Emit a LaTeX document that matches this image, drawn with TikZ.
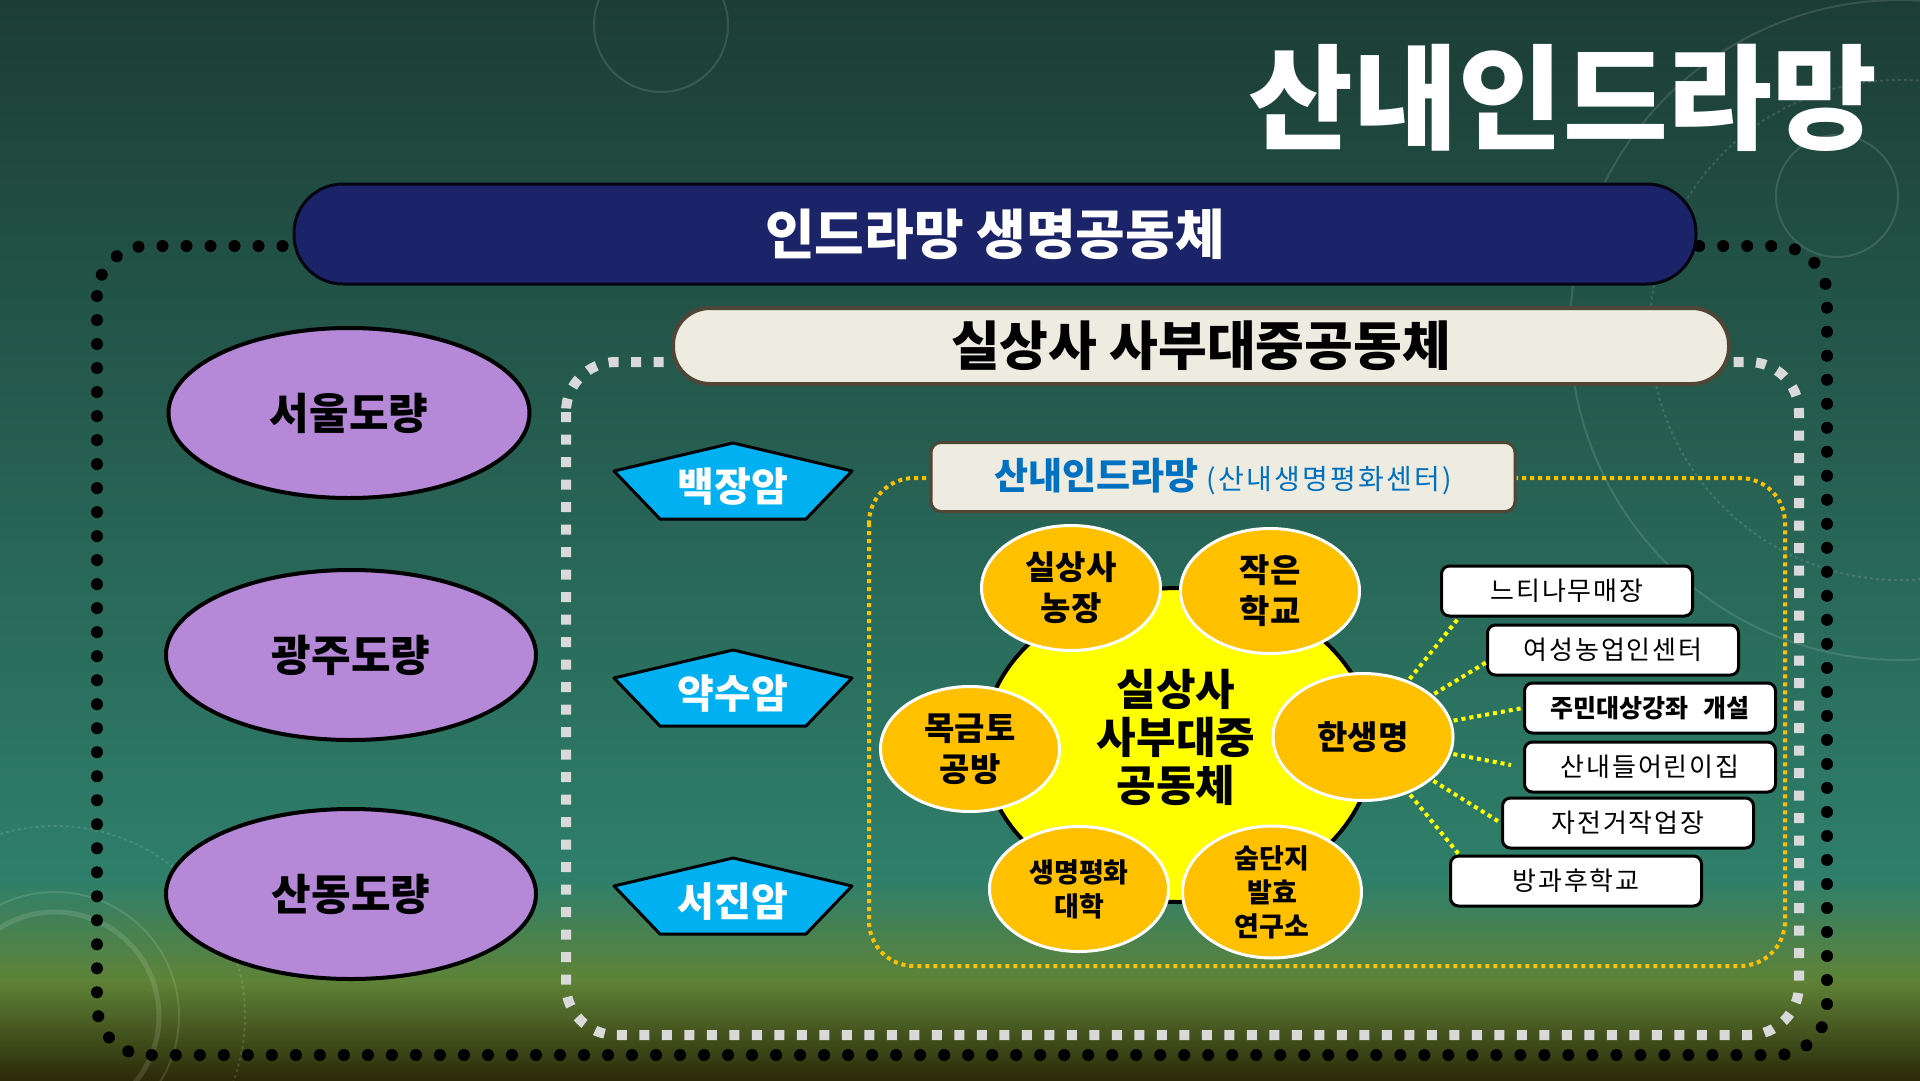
\documentclass[tikz,border=0pt]{standalone}
\usepackage{fontspec}
\setmainfont{Noto Sans CJK KR}
\usetikzlibrary{calc,shapes.geometric}
\definecolor{bgTop}{HTML}{1C3D35}
\definecolor{bgMid}{HTML}{2F7F6B}
\definecolor{bgOlive}{HTML}{5F8337}
\definecolor{bgBot}{HTML}{2B2A08}
\definecolor{navyC}{HTML}{1B2468}
\definecolor{creamC}{HTML}{EEEBE1}
\definecolor{creamB}{HTML}{4F4637}
\definecolor{purpleC}{HTML}{B589D8}
\definecolor{blueC}{HTML}{00B0F0}
\definecolor{orangeC}{HTML}{FFC000}
\definecolor{yelC}{HTML}{FFFF00}
\definecolor{greyD}{HTML}{D9D9D9}
\definecolor{labelBlue}{HTML}{0070C0}
\newcommand\fs[1]{\fontsize{#1}{#1}\selectfont}
\begin{document}
\begin{tikzpicture}[x=1pt,y=-1pt,
  deco/.style={draw=white, draw opacity=0.12, line width=2pt},
  blackdots/.style={draw=black, line width=12pt, line cap=round, dash pattern=on 0.01pt off 24pt},
  whitedash/.style={draw=greyD, line width=10pt, dash pattern=on 10pt off 12.5pt},
  golddots/.style={draw=orangeC, line width=4pt, dash pattern=on 4pt off 4pt},
  ylink/.style={draw=yelC, line width=4pt, dash pattern=on 4pt off 4pt},
  purp/.style={ellipse, draw=black, line width=4pt, fill=purpleC, minimum width=370pt, minimum height=170pt, font=\bfseries\fs{43}},
  pent/.style={draw=black, line width=3pt, fill=blueC, line join=round},
  penttext/.style={text=white, font=\bfseries\fs{40}},
  bubble/.style={ellipse, draw=white, line width=3pt, fill=orangeC, minimum width=179pt, minimum height=125pt, inner sep=0pt, align=center, font=\bfseries\fontsize{33}{41}\selectfont},
  bubblesm/.style={bubble, font=\bfseries\fontsize{27}{34}\selectfont},
  rbox/.style={rectangle, rounded corners=8pt, draw=black, line width=3pt, fill=white, minimum width=251pt, minimum height=50pt, inner sep=0pt, font=\fs{26}\addfontfeatures{LetterSpace=7}}
]
\useasboundingbox (0,0) rectangle (1920,1080);
% background
\shade[top color=bgTop, bottom color=bgMid] (0,0) rectangle (1920,881);
\shade[top color=bgMid, bottom color=bgOlive] (0,880) rectangle (1920,981);
\shade[top color=bgOlive, bottom color=bgBot] (0,980) rectangle (1920,1080);
% faint decorative dials
\draw[deco] (661,25) circle (67);
\draw[deco] (1837,196) circle (61);
\draw[deco] (1900,330) circle (330);
\draw[deco, dashed] (1900,330) circle (250);
\draw[deco, line width=5pt] (55,1016) circle (104);
\draw[deco] (55,1016) circle (124);
\draw[deco, dashed] (55,1016) circle (190);
% outer black dotted frame
\draw[blackdots, rounded corners=50pt] (97,246) rectangle (1827,1055);
% navy bar
\node[rectangle, rounded corners=49pt, draw=black!85!navyC, line width=3pt, fill=navyC, minimum width=1402pt, minimum height=100pt, text=white, font=\bfseries\fs{54}] (navy) at (995,234) {인드라망 생명공동체};
% white dashed frame
\draw[whitedash, rounded corners=50pt] (566,362) rectangle (1799,1035);
% cream bar
\node[rectangle, rounded corners=37pt, draw=creamB, line width=4pt, fill=creamC, minimum width=1056pt, minimum height=76pt, font=\bfseries\fs{53}] (cream) at (1201,346) {실상사 사부대중공동체};
% purple ellipses
\node[purp, minimum width=361pt] (seoul) at (349,413) {서울도량};
\node[purp] (gwangju) at (351,655) {광주도량};
\node[purp] (sandong) at (351,894) {산동도량};
% blue pentagons
\foreach \n/\y/\t in {baek/487/백장암, yaksu/694/약수암, seojin/902/서진암}{
  \draw[pent] (733,\y) ++(0,-44) -- ++(-119,28) -- ++(46,48) -- ++(146,0) -- ++(46,-48) -- cycle;
  \node[penttext] (\n) at (733,\y) {\t};
}
% gold dotted frame
\draw[golddots, rounded corners=45pt] (869,478) rectangle (1785,966);
% label box
\node[rectangle, rounded corners=10pt, draw=creamB, line width=3pt, fill=creamC, minimum width=584pt, minimum height=69pt, text=labelBlue] (label) at (1223,477) {{\bfseries\fs{37}산내인드라망}\hspace{8pt}{\fs{28}\addfontfeatures{LetterSpace=8}(산내생명평화센터)}};
% central yellow disc
\draw[draw=black, line width=4pt, fill=yelC] (1178,745) ellipse [x radius=195, y radius=157];
\node[align=center, font=\bfseries\fontsize{43}{48}\selectfont] (core) at (1176,737) {실상사\\사부대중\\공동체};
% right boxes
\node[rbox] (b1) at (1567,591) {느티나무매장};
\node[rbox] (b2) at (1613,650) {여성농업인센터};
\node[rbox, font=\bfseries\fs{25}] (b3) at (1650,708) {주민대상강좌\hspace{10pt} 개설};
\node[rbox] (b4) at (1650,767) {산내들어린이집};
\node[rbox] (b5) at (1628,823) {자전거작업장};
\node[rbox] (b6) at (1576,881) {방과후학교};
% bubbles
\node[bubble] (farm) at (1071,588) {실상사\\농장};
\node[bubble] (school) at (1270,591) {작은\\학교};
\node[bubble] (mokgeum) at (970,749) {목금토\\공방};
\node[bubblesm] (univ) at (1079,889) {생명평화\\대학};
\node[bubblesm, minimum height=127pt] (sum) at (1272,892) {숨단지\\발효\\연구소};
% connectors from 한생명 to the boxes
\coordinate (e1) at ($(b1.south west)+(19,0)$);
\coordinate (e2) at ($(b2.south west)+(0,-14)$);
\coordinate (e4) at ($(b4.west)+(-12,-2)$);
\coordinate (e6) at ($(b6.north west)+(10,0)$);
\node[bubble, minimum width=180pt, minimum height=127pt] (hs) at (1363,737) {한생명};
\begin{scope}[on background layer/.style={}]
\end{scope}
\draw[ylink, shorten <=2pt] (hs) -- (e1);
\draw[ylink, shorten <=2pt] (hs) -- (e2);
\draw[ylink, shorten <=2pt] (hs) -- (b3.west);
\draw[ylink, shorten <=2pt] (hs) -- (e4);
\draw[ylink, shorten <=2pt] (hs) -- (b5.west);
\draw[ylink, shorten <=2pt] (hs) -- (e6);
% title
\node[text=white, font=\bfseries\fs{114}] (title) at (1563,98) {산내인드라망};
\end{tikzpicture}
\end{document}
